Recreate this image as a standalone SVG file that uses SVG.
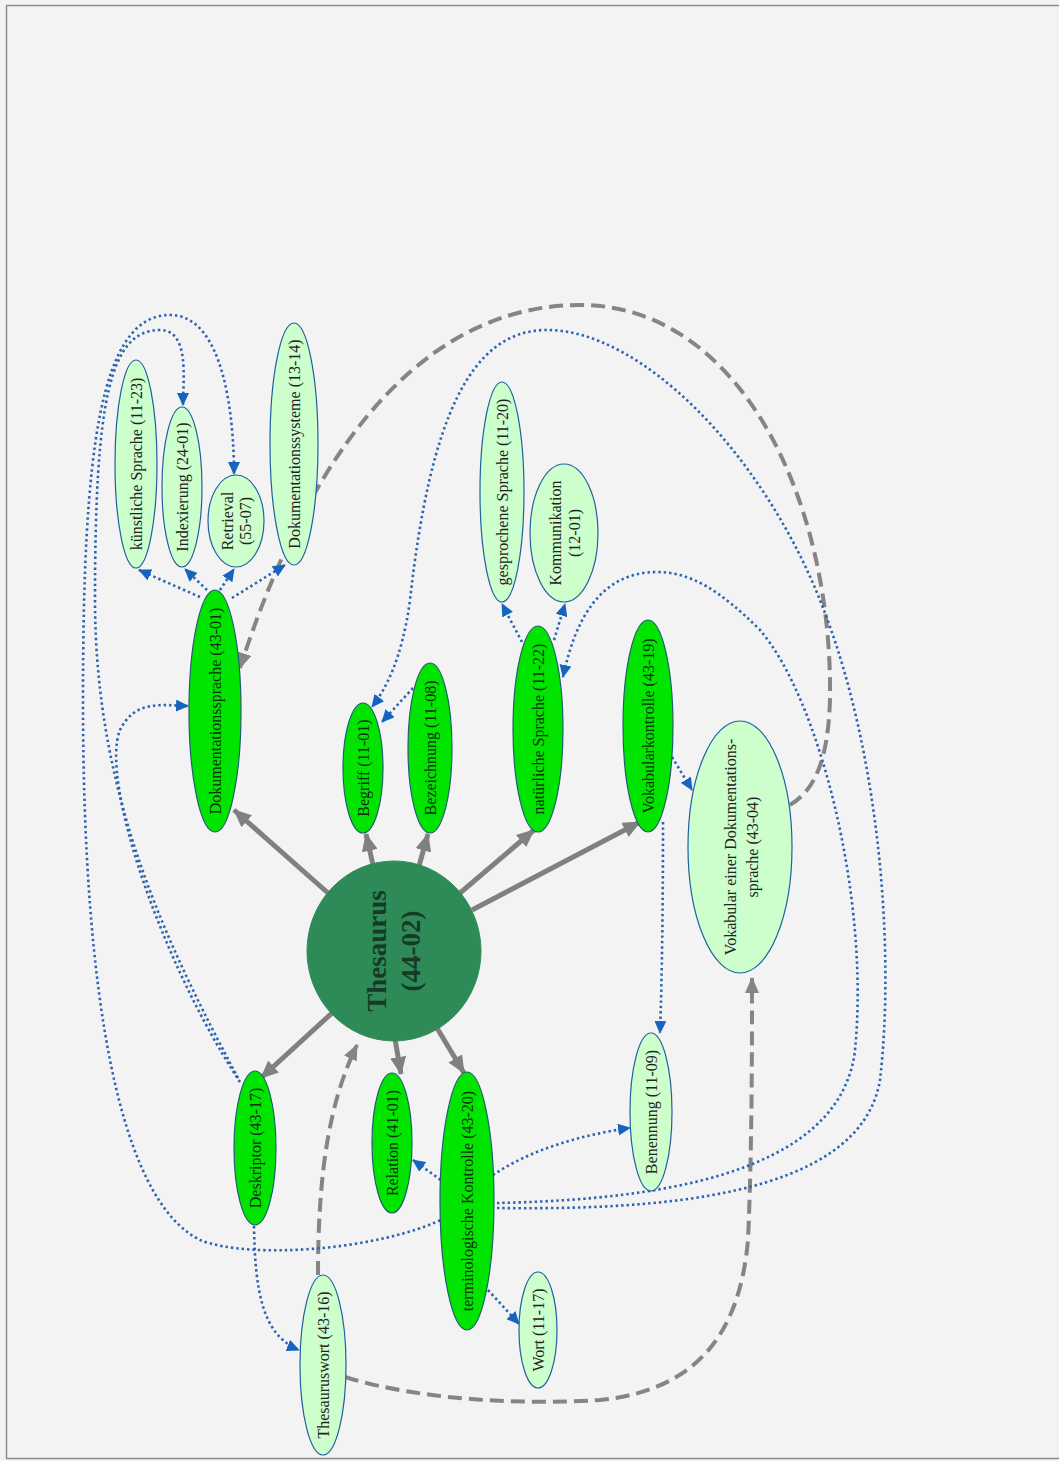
<svg xmlns="http://www.w3.org/2000/svg" width="1059" height="1461" viewBox="0 0 1059 1461">
<defs>
<style>
.bg{fill:#f3f3f3}
.frame{fill:none;stroke:#8c8c8c;stroke-width:1.5}
.main{fill:#00e400;stroke:#1f5f6f;stroke-width:1.2}
.sub{fill:#ccffcc;stroke:#2060a0;stroke-width:1.2}
.hub{fill:#2e8b57;stroke:#2e8b57}
.t{font-family:"Liberation Serif",serif;font-size:16px;text-anchor:middle;dominant-baseline:central}
.tm{fill:#0b2f0b}
.ts{fill:#222}
.th{font-family:"Liberation Serif",serif;font-size:27px;font-weight:bold;fill:#153a25;text-anchor:middle;dominant-baseline:central}
.solid{fill:none;stroke:#808080;stroke-width:5;marker-end:url(#ag)}
.dash{fill:none;stroke:#858585;stroke-width:4;stroke-dasharray:14 7;marker-end:url(#ad)}
.dot{fill:none;stroke:#2a64b0;stroke-width:2.6;stroke-dasharray:2.4 3;marker-end:url(#ab)}
</style>
<marker id="ag" markerUnits="userSpaceOnUse" markerWidth="18" markerHeight="16" refX="17" refY="8" orient="auto"><path d="M0,0 L18,8 L0,16 z" fill="#808080"/></marker>
<marker id="ad" markerUnits="userSpaceOnUse" markerWidth="16" markerHeight="14" refX="15" refY="7" orient="auto"><path d="M0,0 L16,7 L0,14 z" fill="#858585"/></marker>
<marker id="ab" markerUnits="userSpaceOnUse" markerWidth="13" markerHeight="12" refX="12" refY="6" orient="auto"><path d="M0,0 L13,6 L0,12 z" fill="#1565c0"/></marker>
</defs>
<rect class="bg" x="0" y="0" width="1059" height="1461"/>
<rect class="frame" x="6.5" y="5.5" width="1060" height="1453"/>

<g id="connectors">
<path class="solid" d="M328 893 L234 810"/>
<path class="solid" d="M373 865 L366 834"/>
<path class="solid" d="M419 866 L428 834"/>
<path class="solid" d="M460 893 L534 830"/>
<path class="solid" d="M472 910 L640 822"/>
<path class="solid" d="M332 1013 L261 1078"/>
<path class="solid" d="M395 1039 L401 1074"/>
<path class="solid" d="M437 1028 L464 1073"/>
<path class="dash" d="M318 1275 C318 1170 330 1100 357 1045"/>
<path class="dash" d="M345 1377 C420 1400 520 1405 600 1400 C700 1390 740 1330 748 1240 C752 1150 752 1050 752 978"/>
<path class="dash" d="M790 805 C815 790 828 760 830 700 C833 500 740 305 580 305 C440 305 320 420 240 668"/>
<path class="dot" d="M200 597 L139 570"/>
<path class="dot" d="M207 590 L185 569"/>
<path class="dot" d="M220 590 L234 569"/>
<path class="dot" d="M232 598 L285 565"/>
<path class="dot" d="M238 1078 C170 950 95 800 95 600 C95 400 110 330 160 330 C190 330 183 380 183 405"/>
<path class="dot" d="M445 1218 C380 1250 250 1260 200 1240 C120 1200 83 1000 83 700 C83 450 100 315 170 315 C225 315 234 420 234 474"/>
<path class="dot" d="M240 1082 C160 960 100 780 120 730 C135 700 160 705 188 706"/>
<path class="dot" d="M413 688 L382 722"/>
<path class="dot" d="M497 1208 C650 1210 860 1200 880 1080 C895 950 880 750 820 600 C760 450 640 330 547 330 C470 330 430 420 410 600 C402 660 385 690 372 707"/>
<path class="dot" d="M497 1203 C640 1200 840 1180 855 1050 C870 900 820 700 760 630 C720 590 690 572 657 572 C600 572 575 620 563 677"/>
<path class="dot" d="M493 1175 C530 1150 580 1135 630 1128"/>
<path class="dot" d="M445 1183 L413 1160"/>
<path class="dot" d="M488 1290 L519 1324"/>
<path class="dot" d="M254 1226 C255 1290 262 1335 299 1350"/>
<path class="dot" d="M672 757 L692 790"/>
<path class="dot" d="M663 822 C663 900 662 980 660 1033"/>
<path class="dot" d="M522 642 L502 604"/>
<path class="dot" d="M554 640 L565 604"/>
</g>

<g id="n-thesaurus"><ellipse class="hub" cx="394" cy="951" rx="87" ry="90"/>
<text class="th" transform="translate(394,951) rotate(-90)"><tspan x="0" y="-17">Thesaurus</tspan><tspan x="0" y="17">(44-02)</tspan></text></g>

<g id="n-dokumentationssprache"><ellipse class="main" cx="215" cy="711" rx="26" ry="121"/>
<text class="t tm" transform="translate(215,711) rotate(-90)">Dokumentationssprache (43-01)</text></g>

<g id="n-begriff"><ellipse class="main" cx="363" cy="768" rx="20" ry="65"/>
<text class="t tm" transform="translate(363,768) rotate(-90)">Begriff (11-01)</text></g>

<g id="n-bezeichnung"><ellipse class="main" cx="430" cy="748" rx="22" ry="85"/>
<text class="t tm" transform="translate(430,748) rotate(-90)">Bezeichnung (11-08)</text></g>

<g id="n-natuerliche"><ellipse class="main" cx="538" cy="729" rx="25" ry="103"/>
<text class="t tm" transform="translate(538,729) rotate(-90)">natürliche Sprache (11-22)</text></g>

<g id="n-vokabularkontrolle"><ellipse class="main" cx="648" cy="726" rx="25" ry="106"/>
<text class="t tm" transform="translate(648,726) rotate(-90)">Vokabularkontrolle (43-19)</text></g>

<g id="n-vokabular"><ellipse class="sub" cx="740" cy="847" rx="52" ry="126"/>
<text class="t ts" transform="translate(741,847) rotate(-90)"><tspan x="0" y="-11">Vokabular einer Dokumentations-</tspan><tspan x="0" y="11">sprache (43-04)</tspan></text></g>

<g id="n-benennung"><ellipse class="sub" cx="651" cy="1112" rx="21" ry="79"/>
<text class="t ts" transform="translate(651,1112) rotate(-90)">Benennung (11-09)</text></g>

<g id="n-terminologische"><ellipse class="main" cx="467" cy="1201" rx="27" ry="129"/>
<text class="t tm" transform="translate(467,1201) rotate(-90)">terminologische Kontrolle (43-20)</text></g>

<g id="n-relation"><ellipse class="main" cx="392" cy="1143" rx="20" ry="70"/>
<text class="t tm" transform="translate(392,1143) rotate(-90)">Relation (41-01)</text></g>

<g id="n-deskriptor"><ellipse class="main" cx="255" cy="1148" rx="21" ry="77"/>
<text class="t tm" transform="translate(255,1148) rotate(-90)">Deskriptor (43-17)</text></g>

<g id="n-thesauruswort"><ellipse class="sub" cx="323" cy="1365" rx="23" ry="90"/>
<text class="t ts" transform="translate(323,1365) rotate(-90)">Thesauruswort (43-16)</text></g>

<g id="n-wort"><ellipse class="sub" cx="538" cy="1330" rx="19" ry="58"/>
<text class="t ts" transform="translate(538,1330) rotate(-90)">Wort (11-17)</text></g>

<g id="n-kuenstliche"><ellipse class="sub" cx="136" cy="464" rx="21" ry="104"/>
<text class="t ts" transform="translate(136,464) rotate(-90)">künstliche Sprache (11-23)</text></g>

<g id="n-indexierung"><ellipse class="sub" cx="182" cy="487" rx="20" ry="80"/>
<text class="t ts" transform="translate(182,487) rotate(-90)">Indexierung (24-01)</text></g>

<g id="n-retrieval"><ellipse class="sub" cx="236" cy="521" rx="28" ry="46"/>
<text class="t ts" transform="translate(236,521) rotate(-90)"><tspan x="0" y="-9">Retrieval</tspan><tspan x="0" y="9">(55-07)</tspan></text></g>

<g id="n-dokumentationssysteme"><ellipse class="sub" cx="294" cy="444" rx="24" ry="121"/>
<text class="t ts" transform="translate(294,444) rotate(-90)">Dokumentationssysteme (13-14)</text></g>

<g id="n-gesprochene"><ellipse class="sub" cx="502" cy="492" rx="22" ry="110"/>
<text class="t ts" transform="translate(502,492) rotate(-90)">gesprochene Sprache (11-20)</text></g>

<g id="n-kommunikation"><ellipse class="sub" cx="564" cy="533" rx="34" ry="69"/>
<text class="t ts" transform="translate(564,533) rotate(-90)"><tspan x="0" y="-9.5">Kommunikation</tspan><tspan x="0" y="9.5">(12-01)</tspan></text></g>
</svg>
